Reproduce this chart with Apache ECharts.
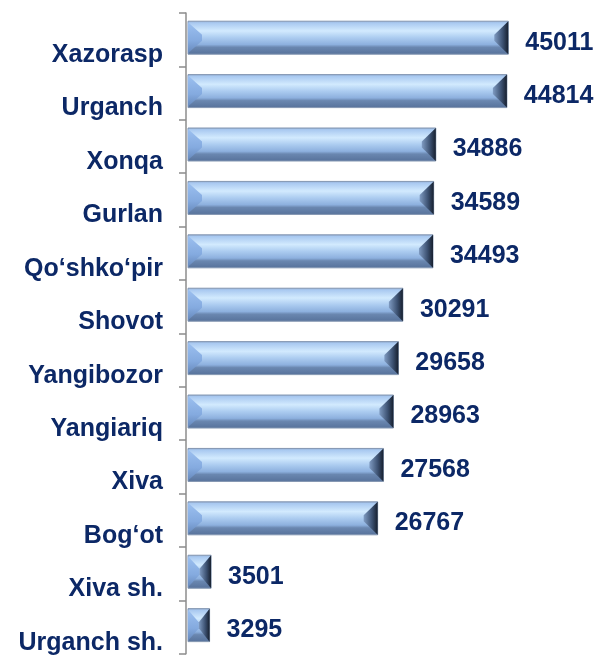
<!DOCTYPE html>
<html>
<head>
<meta charset="utf-8">
<script src="https://cdn.jsdelivr.net/npm/echarts@6/dist/echarts.min.js"></script>
<style>
  html, body { margin: 0; padding: 0; background: #fff; }
  #chart { width: 600px; height: 655px; }
</style>
</head>
<body>
<div id="chart"></div>
<script>
const categories = ['Xazorasp', 'Urganch', 'Xonqa', 'Gurlan', 'Qo‘shko‘pir', 'Shovot',
    'Yangibozor', 'Yangiariq', 'Xiva', 'Bog‘ot', 'Xiva sh.', 'Urganch sh.'];
const values = [45011, 44814, 34886, 34589, 34493, 30291, 29658, 28963, 27568, 26767, 3501, 3295];

const navy = '#0c2866';
const fontFam = '"Liberation Sans", Arial, sans-serif';

// beveled bar, like the excel "bevel" shape effect
function renderBar(params, api) {
    const i = api.value(1);
    const val = api.value(0);
    const start = api.coord([0, i]);
    const end = api.coord([val, i]);
    const h = 33;
    const x0 = start[0] + 2;
    const x1 = end[0];
    const y0 = start[1] - h / 2 - 2;
    const y1 = y0 + h;
    const b = Math.min(14, (x1 - x0) / 2);
    const vb = h / 2 - 3;
    return {
        type: 'group',
        children: [{
            type: 'rect',
            shape: { x: x0, y: y0, width: x1 - x0, height: h },
            style: {
                fill: new echarts.graphic.LinearGradient(0, 0, 0, 1, [
                    { offset: 0, color: '#8aa2c4' },
                    { offset: 0.06, color: '#a8c8f0' },
                    { offset: 0.3, color: '#d2eafe' },
                    { offset: 0.5, color: '#acccf0' },
                    { offset: 0.7, color: '#8db0de' },
                    { offset: 0.78, color: '#6a87b0' },
                    { offset: 1, color: '#56719a' }
                ]),
                stroke: '#8497b2',
                lineWidth: 1
            }
        }, {
            type: 'polygon',
            shape: { points: [[x0, y0 + 1], [x0 + b, y0 + vb], [x0 + b, y1 - vb], [x0, y1 - 1]] },
            style: {
                fill: new echarts.graphic.LinearGradient(0, 0, 0, 1, [
                    { offset: 0, color: '#9cc0f0' },
                    { offset: 0.6, color: '#84aadf' },
                    { offset: 1, color: '#6688bb' }
                ])
            }
        }, {
            type: 'polygon',
            shape: { points: [[x1, y0], [x1 - b, y0 + vb], [x1 - b, y1 - vb], [x1, y1]] },
            style: {
                fill: new echarts.graphic.LinearGradient(0, 0, 1, 0, [
                    { offset: 0, color: '#7f9bc2' },
                    { offset: 0.6, color: '#3c5171' },
                    { offset: 1, color: '#17202f' }
                ])
            }
        }, {
            type: 'text',
            style: {
                text: String(val),
                x: x1 + 17,
                y: start[1] + 3,
                fill: navy,
                font: 'bold 25px ' + fontFam,
                verticalAlign: 'middle',
                align: 'left'
            }
        }]
    };
}

const chart = echarts.init(document.getElementById('chart'));

const option = {
    animation: false,
    grid: { left: 186, top: 13, width: 358, height: 644 },
    xAxis: {
        type: 'value',
        min: 0,
        max: 50000,
        show: false
    },
    yAxis: {
        type: 'category',
        inverse: true,
        data: categories,
        axisLine: { show: true, lineStyle: { color: '#8c8c8c', width: 1.5 } },
        axisTick: { show: true, length: 7, lineStyle: { color: '#8c8c8c', width: 1.5 } },
        axisLabel: {
            color: navy,
            fontSize: 25,
            fontWeight: 'bold',
            fontFamily: fontFam,
            margin: 23,
            verticalAlign: 'top',
            padding: [3, 0, 0, 0]
        },
        splitLine: { show: false }
    },
    series: [{
        type: 'custom',
        renderItem: renderBar,
        encode: { x: 0, y: 1 },
        data: values.map((v, i) => [v, i])
    }]
};

chart.setOption(option);
</script>
</body>
</html>
